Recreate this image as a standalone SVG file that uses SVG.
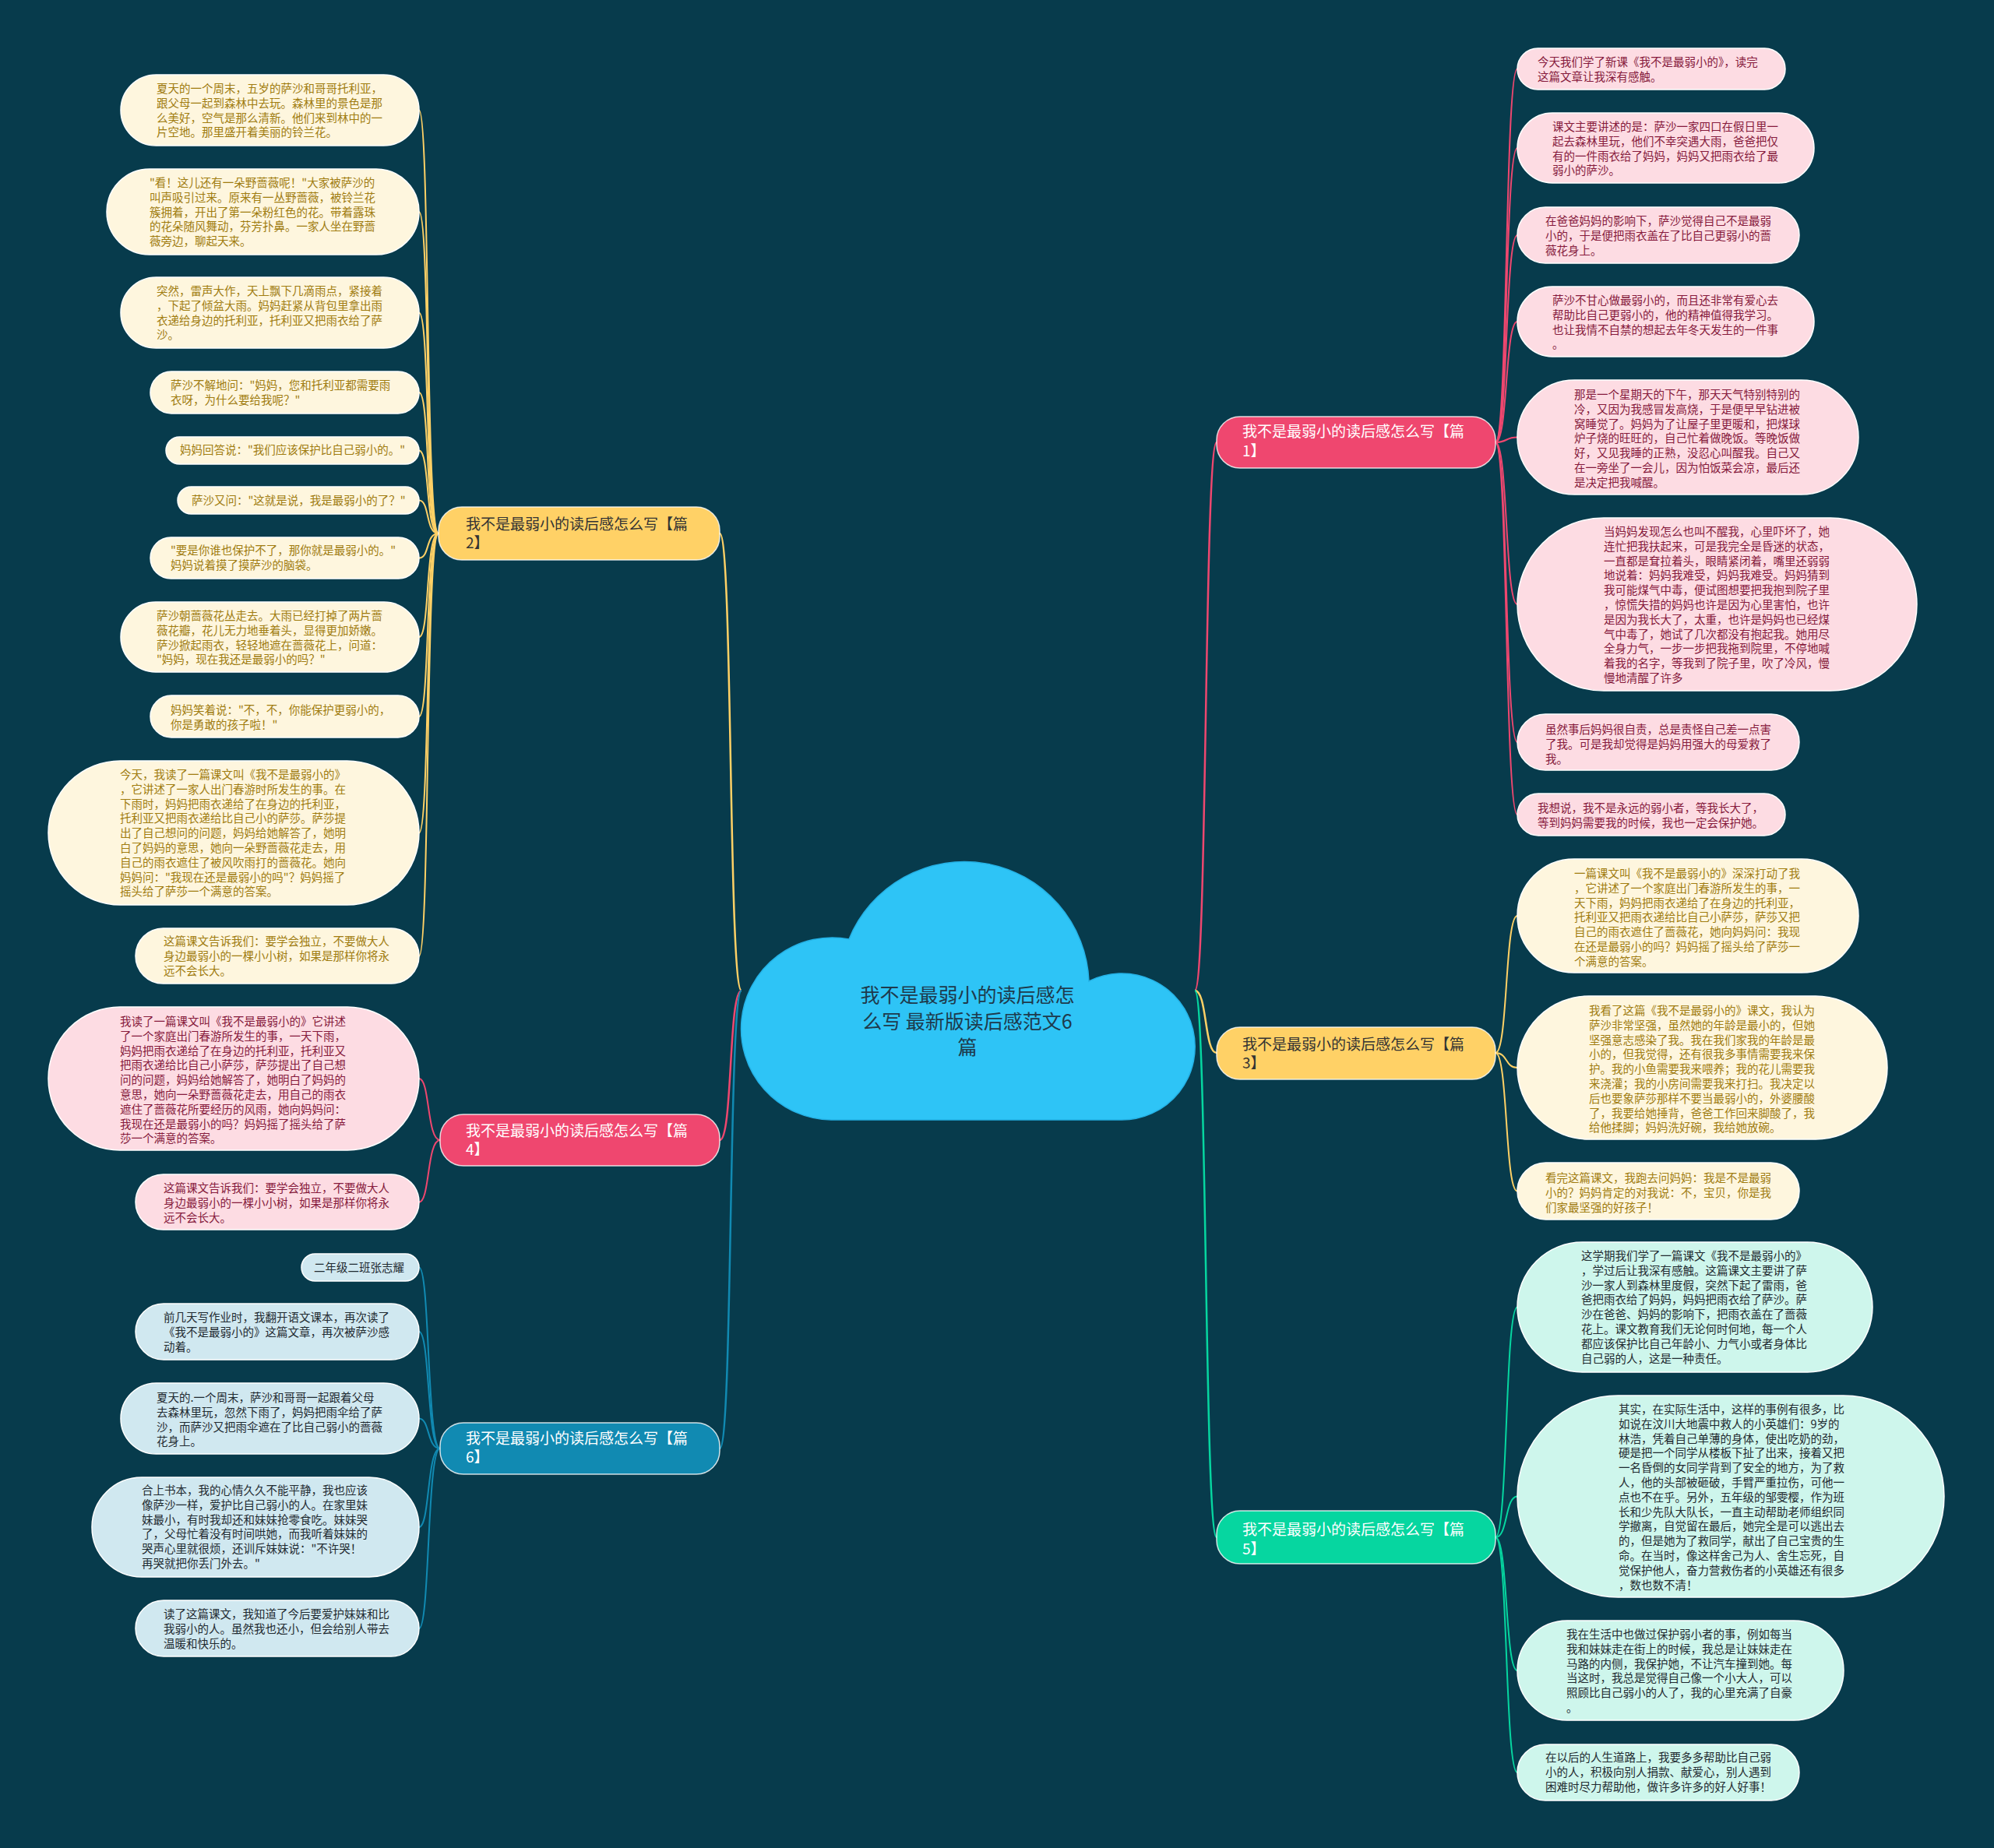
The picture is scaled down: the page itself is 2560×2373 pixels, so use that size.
<svg xmlns="http://www.w3.org/2000/svg" width="2560" height="2373" viewBox="0 0 2560 2373">
<style>
text{font-family:"Noto Sans CJK SC","Noto Sans",sans-serif}
.lt{font-size:14.5px}
.bt{font-size:19px}
.ct{font-size:25px;fill:#1e3a4c}
.c{fill:none;stroke-width:2}
.cb{fill:none;stroke-width:2.5}
.y{stroke:#FFD166}.p{stroke:#EF476F}.b{stroke:#118AB2}.g{stroke:#06D6A0}
.ly rect{fill:#FEF6DE;stroke:#ffffff;stroke-width:1.5}
.ly text{fill:#A07C10}
.lp rect{fill:#FDDCE3;stroke:#ffffff;stroke-width:1.5}
.lp text{fill:#861A3C}
.lb rect{fill:#D0E8F0;stroke:#ffffff;stroke-width:1.5}
.lb text{fill:#1F2A30}
.lg rect{fill:#CEF6EC;stroke:#ffffff;stroke-width:1.5}
.lg text{fill:#1F2A30}
.br rect{stroke:#ffffff;stroke-opacity:0.8;stroke-width:1.5}
</style>
<rect width="2560" height="2373" fill="#073B4C"/>
<g id="connectors">
<path class="cb y" d="M952,1272 C935,1272 941,685 924,685"/>
<path class="cb p" d="M952,1272 C935,1272 941,1464 924,1464"/>
<path class="cb b" d="M952,1272 C935,1272 941,1860 924,1860"/>
<path class="cb p" d="M1534,1272 C1550,1272 1546,568 1562,568"/>
<path class="cb y" d="M1534,1272 C1550,1272 1546,1352 1562,1352"/>
<path class="cb g" d="M1534,1272 C1550,1272 1546,1974 1562,1974"/>
<path class="c y" d="M563,685 C546,685 552,141.5 538,141.5"/>
<path class="c y" d="M563,685 C546,685 552,272 538,272"/>
<path class="c y" d="M563,685 C546,685 552,401.5 538,401.5"/>
<path class="c y" d="M563,685 C546,685 552,504 538,504"/>
<path class="c y" d="M563,685 C546,685 552,578.5 538,578.5"/>
<path class="c y" d="M563,685 C546,685 552,642.5 538,642.5"/>
<path class="c y" d="M563,685 C546,685 552,716.5 538,716.5"/>
<path class="c y" d="M563,685 C546,685 552,818 538,818"/>
<path class="c y" d="M563,685 C546,685 552,920 538,920"/>
<path class="c y" d="M563,685 C546,685 552,1069.5 538,1069.5"/>
<path class="c y" d="M563,685 C546,685 552,1227.5 538,1227.5"/>
<path class="c p" d="M565,1464 C548,1464 552,1385 538,1385"/>
<path class="c p" d="M565,1464 C548,1464 552,1543.5 538,1543.5"/>
<path class="c b" d="M565,1860 C548,1860 552,1627.5 538,1627.5"/>
<path class="c b" d="M565,1860 C548,1860 552,1710 538,1710"/>
<path class="c b" d="M565,1860 C548,1860 552,1821.5 538,1821.5"/>
<path class="c b" d="M565,1860 C548,1860 552,1961 538,1961"/>
<path class="c b" d="M565,1860 C548,1860 552,2091 538,2091"/>
<path class="c p" d="M1920,568 C1936,568 1932,88.5 1948,88.5"/>
<path class="c p" d="M1920,568 C1936,568 1932,190 1948,190"/>
<path class="c p" d="M1920,568 C1936,568 1932,302 1948,302"/>
<path class="c p" d="M1920,568 C1936,568 1932,413 1948,413"/>
<path class="c p" d="M1920,568 C1936,568 1932,561.5 1948,561.5"/>
<path class="c p" d="M1920,568 C1936,568 1932,776 1948,776"/>
<path class="c p" d="M1920,568 C1936,568 1932,953 1948,953"/>
<path class="c p" d="M1920,568 C1936,568 1932,1046 1948,1046"/>
<path class="c y" d="M1920,1352 C1936,1352 1932,1176 1948,1176"/>
<path class="c y" d="M1920,1352 C1936,1352 1932,1371 1948,1371"/>
<path class="c y" d="M1920,1352 C1936,1352 1932,1529.5 1948,1529.5"/>
<path class="c g" d="M1920,1974 C1936,1974 1932,1678.5 1948,1678.5"/>
<path class="c g" d="M1920,1974 C1936,1974 1932,1921.5 1948,1921.5"/>
<path class="c g" d="M1920,1974 C1936,1974 1932,2145 1948,2145"/>
<path class="c g" d="M1920,1974 C1936,1974 1932,2276 1948,2276"/>
</g>
<g id="center">
<path d="M1067,1438 A117,117 0 1 1 1090,1206 A160,160 0 0 1 1398,1260 A94,94 0 1 1 1440,1438 Z" fill="#2EC4F6" stroke="#25B2E6" stroke-width="1.5"/>
<text class="ct" text-anchor="middle"><tspan x="1242" y="1287">我不是最弱小的读后感怎</tspan><tspan x="1242" y="1321">么写 最新版读后感范文6</tspan><tspan x="1242" y="1354">篇</tspan></text>
</g>
<g id="branch2" class="br"><rect x="563" y="651" width="361" height="68" rx="30" fill="#FFD166"/><text class="bt" fill="#333333"><tspan x="598" y="680">我不是最弱小的读后感怎么写【篇</tspan><tspan x="598" y="704">2】</tspan></text></g>
<g id="branch4" class="br"><rect x="565" y="1431" width="359" height="66" rx="30" fill="#EF476F"/><text class="bt" fill="#ffffff"><tspan x="598" y="1459">我不是最弱小的读后感怎么写【篇</tspan><tspan x="598" y="1483">4】</tspan></text></g>
<g id="branch6" class="br"><rect x="565" y="1827" width="359" height="66" rx="30" fill="#118AB2"/><text class="bt" fill="#ffffff"><tspan x="598" y="1854">我不是最弱小的读后感怎么写【篇</tspan><tspan x="598" y="1878">6】</tspan></text></g>
<g id="branch1" class="br"><rect x="1562" y="535" width="358" height="66" rx="30" fill="#EF476F"/><text class="bt" fill="#ffffff"><tspan x="1595" y="561">我不是最弱小的读后感怎么写【篇</tspan><tspan x="1595" y="586">1】</tspan></text></g>
<g id="branch3" class="br"><rect x="1562" y="1319" width="358" height="67" rx="30" fill="#FFD166"/><text class="bt" fill="#333333"><tspan x="1595" y="1348">我不是最弱小的读后感怎么写【篇</tspan><tspan x="1595" y="1372">3】</tspan></text></g>
<g id="branch5" class="br"><rect x="1562" y="1940" width="358" height="68" rx="30" fill="#06D6A0"/><text class="bt" fill="#ffffff"><tspan x="1595" y="1971">我不是最弱小的读后感怎么写【篇</tspan><tspan x="1595" y="1996">5】</tspan></text></g>

<g id="leaf1" class="ly"><rect x="155" y="96" width="383" height="91" rx="45.5"/><text class="lt"><tspan x="201" y="119">夏天的一个周末，五岁的萨沙和哥哥托利亚，</tspan><tspan x="201" dy="18.8">跟父母一起到森林中去玩。森林里的景色是那</tspan><tspan x="201" dy="18.8">么美好，空气是那么清新。他们来到林中的一</tspan><tspan x="201" dy="18.8">片空地。那里盛开着美丽的铃兰花。</tspan></text></g>
<g id="leaf2" class="ly"><rect x="137" y="217" width="401" height="110" rx="55"/><text class="lt"><tspan x="192" y="240">"看！这儿还有一朵野蔷薇呢！"大家被萨沙的</tspan><tspan x="192" dy="18.8">叫声吸引过来。原来有一丛野蔷薇，被铃兰花</tspan><tspan x="192" dy="18.8">簇拥着，开出了第一朵粉红色的花。带着露珠</tspan><tspan x="192" dy="18.8">的花朵随风舞动，芬芳扑鼻。一家人坐在野蔷</tspan><tspan x="192" dy="18.8">薇旁边，聊起天来。</tspan></text></g>
<g id="leaf3" class="ly"><rect x="155" y="356" width="383" height="91" rx="45.5"/><text class="lt"><tspan x="201" y="379">突然，雷声大作，天上飘下几滴雨点，紧接着</tspan><tspan x="201" dy="18.8">，下起了倾盆大雨。妈妈赶紧从背包里拿出雨</tspan><tspan x="201" dy="18.8">衣递给身边的托利亚，托利亚又把雨衣给了萨</tspan><tspan x="201" dy="18.8">沙。</tspan></text></g>
<g id="leaf4" class="ly"><rect x="193" y="477" width="345" height="54" rx="27"/><text class="lt"><tspan x="219" y="500">萨沙不解地问："妈妈，您和托利亚都需要雨</tspan><tspan x="219" dy="18.8">衣呀，为什么要给我呢？"</tspan></text></g>
<g id="leaf5" class="ly"><rect x="213" y="561" width="325" height="35" rx="17.5"/><text class="lt"><tspan x="231" y="583">妈妈回答说："我们应该保护比自己弱小的。"</tspan></text></g>
<g id="leaf6" class="ly"><rect x="228" y="625" width="310" height="35" rx="17.5"/><text class="lt"><tspan x="246" y="648">萨沙又问："这就是说，我是最弱小的了？"</tspan></text></g>
<g id="leaf7" class="ly"><rect x="193" y="690" width="345" height="53" rx="26.5"/><text class="lt"><tspan x="219" y="712">"要是你谁也保护不了，那你就是最弱小的。"</tspan><tspan x="219" dy="18.8">妈妈说着摸了摸萨沙的脑袋。</tspan></text></g>
<g id="leaf8" class="ly"><rect x="155" y="773" width="383" height="90" rx="45"/><text class="lt"><tspan x="201" y="796">萨沙朝蔷薇花丛走去。大雨已经打掉了两片蔷</tspan><tspan x="201" dy="18.8">薇花瓣，花儿无力地垂着头，显得更加娇嫩。</tspan><tspan x="201" dy="18.8">萨沙掀起雨衣，轻轻地遮在蔷薇花上，问道：</tspan><tspan x="201" dy="18.8">"妈妈，现在我还是最弱小的吗？"</tspan></text></g>
<g id="leaf9" class="ly"><rect x="193" y="893" width="345" height="54" rx="27"/><text class="lt"><tspan x="219" y="917">妈妈笑着说："不，不，你能保护更弱小的，</tspan><tspan x="219" dy="18.8">你是勇敢的孩子啦！"</tspan></text></g>
<g id="leaf10" class="ly"><rect x="62" y="977" width="476" height="185" rx="92.5"/><text class="lt"><tspan x="154" y="1000">今天，我读了一篇课文叫《我不是最弱小的》</tspan><tspan x="154" dy="18.8">，它讲述了一家人出门春游时所发生的事。在</tspan><tspan x="154" dy="18.8">下雨时，妈妈把雨衣递给了在身边的托利亚，</tspan><tspan x="154" dy="18.8">托利亚又把雨衣递给比自己小的萨莎。萨莎提</tspan><tspan x="154" dy="18.8">出了自己想问的问题，妈妈给她解答了，她明</tspan><tspan x="154" dy="18.8">白了妈妈的意思，她向一朵野蔷薇花走去，用</tspan><tspan x="154" dy="18.8">自己的雨衣遮住了被风吹雨打的蔷薇花。她向</tspan><tspan x="154" dy="18.8">妈妈问："我现在还是最弱小的吗"？妈妈摇了</tspan><tspan x="154" dy="18.8">摇头给了萨莎一个满意的答案。</tspan></text></g>
<g id="leaf11" class="ly"><rect x="174" y="1192" width="364" height="71" rx="35.5"/><text class="lt"><tspan x="210" y="1214">这篇课文告诉我们：要学会独立，不要做大人</tspan><tspan x="210" dy="18.8">身边最弱小的一棵小小树，如果是那样你将永</tspan><tspan x="210" dy="18.8">远不会长大。</tspan></text></g>

<g id="leaf12" class="lp"><rect x="62" y="1293" width="476" height="184" rx="92"/><text class="lt"><tspan x="154" y="1317">我读了一篇课文叫《我不是最弱小的》它讲述</tspan><tspan x="154" dy="18.8">了一个家庭出门春游所发生的事，一天下雨，</tspan><tspan x="154" dy="18.8">妈妈把雨衣递给了在身边的托利亚，托利亚又</tspan><tspan x="154" dy="18.8">把雨衣递给比自己小萨莎，萨莎提出了自己想</tspan><tspan x="154" dy="18.8">问的问题，妈妈给她解答了，她明白了妈妈的</tspan><tspan x="154" dy="18.8">意思，她向一朵野蔷薇花走去，用自己的雨衣</tspan><tspan x="154" dy="18.8">遮住了蔷薇花所要经历的风雨，她向妈妈问：</tspan><tspan x="154" dy="18.8">我现在还是最弱小的吗？妈妈摇了摇头给了萨</tspan><tspan x="154" dy="18.8">莎一个满意的答案。</tspan></text></g>
<g id="leaf13" class="lp"><rect x="174" y="1508" width="364" height="71" rx="35.5"/><text class="lt"><tspan x="210" y="1531">这篇课文告诉我们：要学会独立，不要做大人</tspan><tspan x="210" dy="18.8">身边最弱小的一棵小小树，如果是那样你将永</tspan><tspan x="210" dy="18.8">远不会长大。</tspan></text></g>

<g id="leaf14" class="lb"><rect x="387" y="1610" width="151" height="35" rx="17.5"/><text class="lt"><tspan x="403" y="1633">二年级二班张志耀</tspan></text></g>
<g id="leaf15" class="lb"><rect x="174" y="1674" width="364" height="72" rx="36"/><text class="lt"><tspan x="210" y="1697">前几天写作业时，我翻开语文课本，再次读了</tspan><tspan x="210" dy="18.8">《我不是最弱小的》这篇文章，再次被萨沙感</tspan><tspan x="210" dy="18.8">动着。</tspan></text></g>
<g id="leaf16" class="lb"><rect x="155" y="1776" width="383" height="91" rx="45.5"/><text class="lt"><tspan x="201" y="1800">夏天的.一个周末，萨沙和哥哥一起跟着父母</tspan><tspan x="201" dy="18.8">去森林里玩，忽然下雨了，妈妈把雨伞给了萨</tspan><tspan x="201" dy="18.8">沙，而萨沙又把雨伞遮在了比自己弱小的蔷薇</tspan><tspan x="201" dy="18.8">花身上。</tspan></text></g>
<g id="leaf17" class="lb"><rect x="118" y="1897" width="420" height="128" rx="64"/><text class="lt"><tspan x="182" y="1919">合上书本，我的心情久久不能平静，我也应该</tspan><tspan x="182" dy="18.8">像萨沙一样，爱护比自己弱小的人。在家里妹</tspan><tspan x="182" dy="18.8">妹最小，有时我却还和妹妹抢零食吃。妹妹哭</tspan><tspan x="182" dy="18.8">了，父母忙着没有时间哄她，而我听着妹妹的</tspan><tspan x="182" dy="18.8">哭声心里就很烦，还训斥妹妹说："不许哭！</tspan><tspan x="182" dy="18.8">再哭就把你丢门外去。"</tspan></text></g>
<g id="leaf18" class="lb"><rect x="174" y="2055" width="364" height="72" rx="36"/><text class="lt"><tspan x="210" y="2078">读了这篇课文，我知道了今后要爱护妹妹和比</tspan><tspan x="210" dy="18.8">我弱小的人。虽然我也还小，但会给别人带去</tspan><tspan x="210" dy="18.8">温暖和快乐的。</tspan></text></g>

<g id="leaf19" class="lp"><rect x="1948" y="62" width="344" height="53" rx="26.5"/><text class="lt"><tspan x="1974" y="85">今天我们学了新课《我不是最弱小的》，读完</tspan><tspan x="1974" dy="18.8">这篇文章让我深有感触。</tspan></text></g>
<g id="leaf20" class="lp"><rect x="1948" y="145" width="381" height="90" rx="45"/><text class="lt"><tspan x="1993" y="168">课文主要讲述的是：萨沙一家四口在假日里一</tspan><tspan x="1993" dy="18.8">起去森林里玩，他们不幸突遇大雨，爸爸把仅</tspan><tspan x="1993" dy="18.8">有的一件雨衣给了妈妈，妈妈又把雨衣给了最</tspan><tspan x="1993" dy="18.8">弱小的萨沙。</tspan></text></g>
<g id="leaf21" class="lp"><rect x="1948" y="266" width="362" height="72" rx="36"/><text class="lt"><tspan x="1984" y="289">在爸爸妈妈的影响下，萨沙觉得自己不是最弱</tspan><tspan x="1984" dy="18.8">小的，于是便把雨衣盖在了比自己更弱小的蔷</tspan><tspan x="1984" dy="18.8">薇花身上。</tspan></text></g>
<g id="leaf22" class="lp"><rect x="1948" y="368" width="381" height="90" rx="45"/><text class="lt"><tspan x="1993" y="391">萨沙不甘心做最弱小的，而且还非常有爱心去</tspan><tspan x="1993" dy="18.8">帮助比自己更弱小的，他的精神值得我学习。</tspan><tspan x="1993" dy="18.8">也让我情不自禁的想起去年冬天发生的一件事</tspan><tspan x="1993" dy="18.8">。</tspan></text></g>
<g id="leaf23" class="lp"><rect x="1948" y="488" width="438" height="147" rx="73.5"/><text class="lt"><tspan x="2021" y="512">那是一个星期天的下午，那天天气特别特别的</tspan><tspan x="2021" dy="18.8">冷，又因为我感冒发高烧，于是便早早钻进被</tspan><tspan x="2021" dy="18.8">窝睡觉了。妈妈为了让屋子里更暖和，把煤球</tspan><tspan x="2021" dy="18.8">炉子烧的旺旺的，自己忙着做晚饭。等晚饭做</tspan><tspan x="2021" dy="18.8">好，又见我睡的正熟，没忍心叫醒我。自己又</tspan><tspan x="2021" dy="18.8">在一旁坐了一会儿，因为怕饭菜会凉，最后还</tspan><tspan x="2021" dy="18.8">是决定把我喊醒。</tspan></text></g>
<g id="leaf24" class="lp"><rect x="1948" y="665" width="513" height="222" rx="111"/><text class="lt"><tspan x="2059" y="688">当妈妈发现怎么也叫不醒我，心里吓坏了，她</tspan><tspan x="2059" dy="18.8">连忙把我扶起来，可是我完全是昏迷的状态，</tspan><tspan x="2059" dy="18.8">一直都是耷拉着头，眼睛紧闭着，嘴里还弱弱</tspan><tspan x="2059" dy="18.8">地说着：妈妈我难受，妈妈我难受。妈妈猜到</tspan><tspan x="2059" dy="18.8">我可能煤气中毒，便试图想要把我抱到院子里</tspan><tspan x="2059" dy="18.8">，惊慌失措的妈妈也许是因为心里害怕，也许</tspan><tspan x="2059" dy="18.8">是因为我长大了，太重，也许是妈妈也已经煤</tspan><tspan x="2059" dy="18.8">气中毒了，她试了几次都没有抱起我。她用尽</tspan><tspan x="2059" dy="18.8">全身力气，一步一步把我拖到院里，不停地喊</tspan><tspan x="2059" dy="18.8">着我的名字，等我到了院子里，吹了冷风，慢</tspan><tspan x="2059" dy="18.8">慢地清醒了许多</tspan></text></g>
<g id="leaf25" class="lp"><rect x="1948" y="917" width="362" height="72" rx="36"/><text class="lt"><tspan x="1984" y="942">虽然事后妈妈很自责，总是责怪自己差一点害</tspan><tspan x="1984" dy="18.8">了我。可是我却觉得是妈妈用强大的母爱救了</tspan><tspan x="1984" dy="18.8">我。</tspan></text></g>
<g id="leaf26" class="lp"><rect x="1948" y="1019" width="344" height="54" rx="27"/><text class="lt"><tspan x="1974" y="1043">我想说，我不是永远的弱小者，等我长大了，</tspan><tspan x="1974" dy="18.8">等到妈妈需要我的时候，我也一定会保护她。</tspan></text></g>

<g id="leaf27" class="ly"><rect x="1948" y="1103" width="438" height="146" rx="73"/><text class="lt"><tspan x="2021" y="1127">一篇课文叫《我不是最弱小的》深深打动了我</tspan><tspan x="2021" dy="18.8">，它讲述了一个家庭出门春游所发生的事，一</tspan><tspan x="2021" dy="18.8">天下雨，妈妈把雨衣递给了在身边的托利亚，</tspan><tspan x="2021" dy="18.8">托利亚又把雨衣递给比自己小萨莎，萨莎又把</tspan><tspan x="2021" dy="18.8">自己的雨衣遮住了蔷薇花，她向妈妈问：我现</tspan><tspan x="2021" dy="18.8">在还是最弱小的吗？妈妈摇了摇头给了萨莎一</tspan><tspan x="2021" dy="18.8">个满意的答案。</tspan></text></g>
<g id="leaf28" class="ly"><rect x="1948" y="1279" width="475" height="184" rx="92"/><text class="lt"><tspan x="2040" y="1303">我看了这篇《我不是最弱小的》课文，我认为</tspan><tspan x="2040" dy="18.8">萨沙非常坚强，虽然她的年龄是最小的，但她</tspan><tspan x="2040" dy="18.8">坚强意志感染了我。我在我们家我的年龄是最</tspan><tspan x="2040" dy="18.8">小的，但我觉得，还有很我多事情需要我来保</tspan><tspan x="2040" dy="18.8">护。我的小鱼需要我来喂养；我的花儿需要我</tspan><tspan x="2040" dy="18.8">来浇灌；我的小房间需要我来打扫。我决定以</tspan><tspan x="2040" dy="18.8">后也要象萨莎那样不要当最弱小的，外婆腰酸</tspan><tspan x="2040" dy="18.8">了，我要给她捶背，爸爸工作回来脚酸了，我</tspan><tspan x="2040" dy="18.8">给他揉脚；妈妈洗好碗，我给她放碗。</tspan></text></g>
<g id="leaf29" class="ly"><rect x="1948" y="1493" width="362" height="73" rx="36.5"/><text class="lt"><tspan x="1984" y="1518">看完这篇课文，我跑去问妈妈：我是不是最弱</tspan><tspan x="1984" dy="18.8">小的？妈妈肯定的对我说：不，宝贝，你是我</tspan><tspan x="1984" dy="18.8">们家最坚强的好孩子！</tspan></text></g>

<g id="leaf30" class="lg"><rect x="1948" y="1595" width="456" height="167" rx="83.5"/><text class="lt"><tspan x="2030" y="1618">这学期我们学了一篇课文《我不是最弱小的》</tspan><tspan x="2030" dy="18.8">，学过后让我深有感触。这篇课文主要讲了萨</tspan><tspan x="2030" dy="18.8">沙一家人到森林里度假，突然下起了雷雨，爸</tspan><tspan x="2030" dy="18.8">爸把雨衣给了妈妈，妈妈把雨衣给了萨沙。萨</tspan><tspan x="2030" dy="18.8">沙在爸爸、妈妈的影响下，把雨衣盖在了蔷薇</tspan><tspan x="2030" dy="18.8">花上。课文教育我们无论何时何地，每一个人</tspan><tspan x="2030" dy="18.8">都应该保护比自己年龄小、力气小或者身体比</tspan><tspan x="2030" dy="18.8">自己弱的人，这是一种责任。</tspan></text></g>
<g id="leaf31" class="lg"><rect x="1948" y="1792" width="548" height="259" rx="129.5"/><text class="lt"><tspan x="2078" y="1815">其实，在实际生活中，这样的事例有很多，比</tspan><tspan x="2078" dy="18.8">如说在汶川大地震中救人的小英雄们：9岁的</tspan><tspan x="2078" dy="18.8">林浩，凭着自己单薄的身体，使出吃奶的劲，</tspan><tspan x="2078" dy="18.8">硬是把一个同学从楼板下扯了出来，接着又把</tspan><tspan x="2078" dy="18.8">一名昏倒的女同学背到了安全的地方，为了救</tspan><tspan x="2078" dy="18.8">人，他的头部被砸破，手臂严重拉伤，可他一</tspan><tspan x="2078" dy="18.8">点也不在乎。另外，五年级的邹雯樱，作为班</tspan><tspan x="2078" dy="18.8">长和少先队大队长，一直主动帮助老师组织同</tspan><tspan x="2078" dy="18.8">学撤离，自觉留在最后，她完全是可以逃出去</tspan><tspan x="2078" dy="18.8">的，但是她为了救同学，献出了自己宝贵的生</tspan><tspan x="2078" dy="18.8">命。在当时，像这样舍己为人、舍生忘死，自</tspan><tspan x="2078" dy="18.8">觉保护他人，奋力营救伤者的小英雄还有很多</tspan><tspan x="2078" dy="18.8">，数也数不清！</tspan></text></g>
<g id="leaf32" class="lg"><rect x="1948" y="2081" width="419" height="128" rx="64"/><text class="lt"><tspan x="2011" y="2104">我在生活中也做过保护弱小者的事，例如每当</tspan><tspan x="2011" dy="18.8">我和妹妹走在街上的时候，我总是让妹妹走在</tspan><tspan x="2011" dy="18.8">马路的内侧，我保护她，不让汽车撞到她。每</tspan><tspan x="2011" dy="18.8">当这时，我总是觉得自己像一个小大人，可以</tspan><tspan x="2011" dy="18.8">照顾比自己弱小的人了，我的心里充满了自豪</tspan><tspan x="2011" dy="18.8">。</tspan></text></g>
<g id="leaf33" class="lg"><rect x="1948" y="2240" width="362" height="72" rx="36"/><text class="lt"><tspan x="1984" y="2262">在以后的人生道路上，我要多多帮助比自己弱</tspan><tspan x="1984" dy="18.8">小的人，积极向别人捐款、献爱心，别人遇到</tspan><tspan x="1984" dy="18.8">困难时尽力帮助他，做许多许多的好人好事！</tspan></text></g>
</svg>
